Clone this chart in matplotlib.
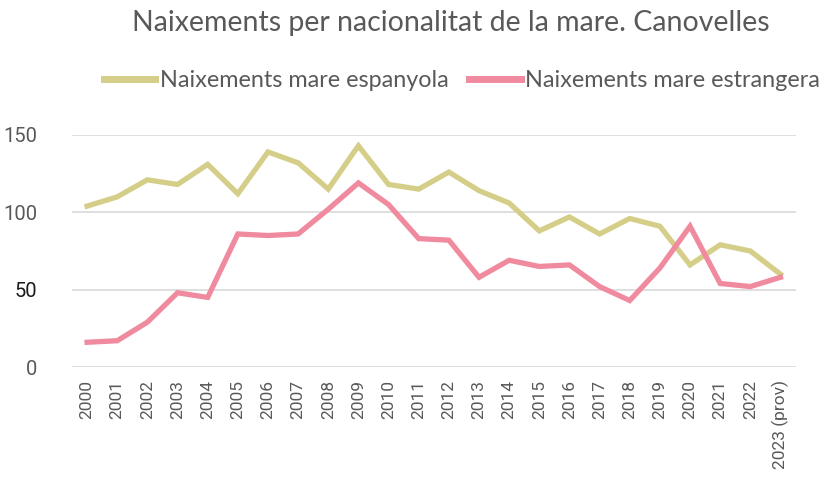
import numpy as np
import matplotlib.pyplot as plt

# Dades
anys = [str(a) for a in range(2000, 2023)] + ["2023 (prov)"]
mare_espanyola = [104, 110, 121, 118, 131, 112, 139, 132, 115, 143, 118, 115,
                  126, 114, 106, 88, 97, 86, 96, 91, 66, 79, 75, 60]
mare_estrangera = [16, 17, 29, 48, 45, 86, 85, 86, 102, 119, 105, 83,
                   82, 58, 69, 65, 66, 52, 43, 64, 91, 54, 52, 58]
y_ticks = [0, 50, 100, 150]

color_esp = "#D5CE88"
color_est = "#F08A9E"
text_color = "#595959"

fig = plt.figure(figsize=(8.25, 4.98), dpi=100)
ax = fig.add_axes([0.0873, 0.263, 0.877, 0.466])

x = np.arange(len(anys))
ax.plot(x, mare_espanyola, color=color_esp, lw=3.8, label="Naixements mare espanyola",
        solid_joinstyle="miter", zorder=3)
ax.plot(x, mare_estrangera, color=color_est, lw=3.8, label="Naixements mare estrangera",
        solid_joinstyle="miter", zorder=3)

ax.set_xlim(-0.5, len(anys) - 0.5)
ax.set_ylim(0, 150)
ax.set_yticks(y_ticks)
ax.set_xticks(x)
ax.set_xticklabels(anys, rotation=90, fontsize=12.5, color=text_color,
                   family="Roboto", va="top")
ax.set_yticklabels([str(v) for v in y_ticks], fontsize=14.5, color=text_color,
                   family="Roboto")
ax.get_yticklabels()[1].set_color("#1a1a1a")
ax.tick_params(axis="both", length=0)
ax.tick_params(axis="y", pad=25)
ax.tick_params(axis="x", pad=9)

ax.grid(axis="y", color="#D9D9D9", lw=1.2, zorder=0)
for s in ax.spines.values():
    s.set_visible(False)

fig.text(0.547, 0.953, "Naixements per nacionalitat de la mare. Canovelles",
         ha="center", va="center", fontsize=20.5, color=text_color, family="Lato")

leg = fig.legend(loc="center", bbox_to_anchor=(0.56, 0.838), ncol=2, frameon=False,
                 prop={"family": "Lato", "size": 16.8}, handlelength=2.2,
                 handletextpad=0.2, columnspacing=0.9, borderaxespad=0)
for t in leg.get_texts():
    t.set_color(text_color)
for h in leg.get_lines():
    h.set_linewidth(5)

fig.savefig("out.png", dpi=100)
